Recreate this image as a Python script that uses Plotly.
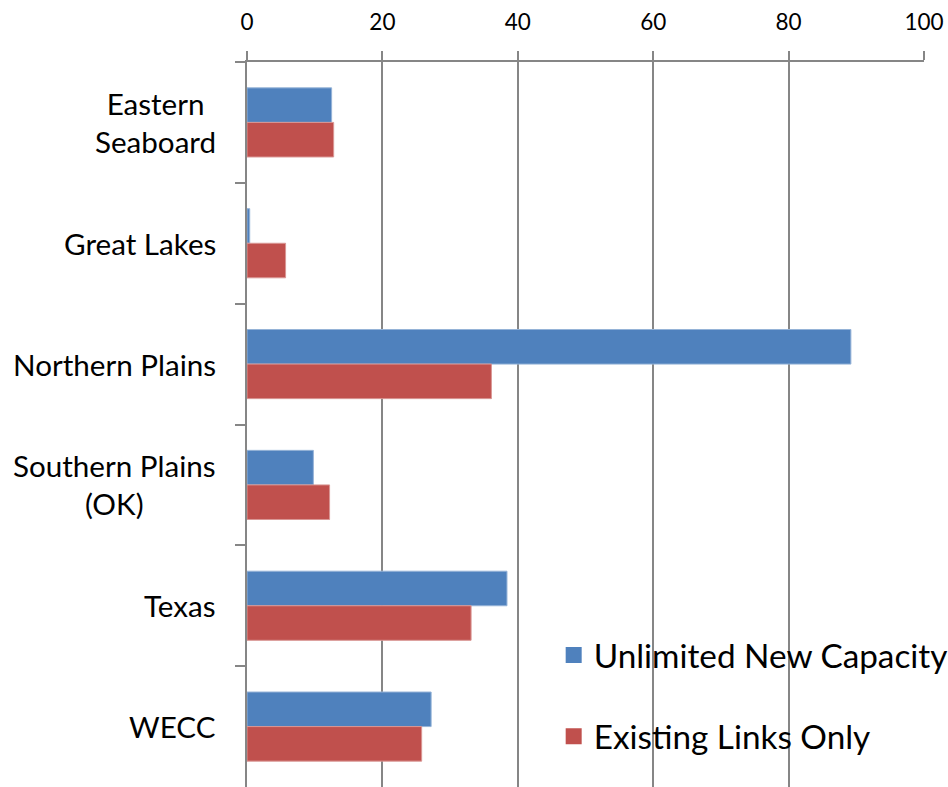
import plotly.graph_objects as go

categories = ["Eastern<br>Seaboard", "Great Lakes", "Northern Plains",
              "Southern Plains<br>(OK)", "Texas", "WECC"]
unlimited_new_capacity = [12.5, 0.4, 89.2, 9.8, 38.4, 27.2]
existing_links_only = [12.8, 5.7, 36.1, 12.2, 33.1, 25.8]
x_ticks = [0, 20, 40, 60, 80, 100]

BLUE = "#4F81BD"
RED = "#C0504D"
GRID = "#868686"
FONT = "Lato"

fig = go.Figure()
fig.add_trace(go.Bar(
    y=categories, x=unlimited_new_capacity, orientation="h",
    name="Unlimited New Capacity", showlegend=False,
    marker=dict(color=BLUE, line=dict(color="#95B3D7", width=1)),
))
fig.add_trace(go.Bar(
    y=categories, x=existing_links_only, orientation="h",
    name="Existing Links Only", showlegend=False,
    marker=dict(color=RED, line=dict(color="#D99694", width=1)),
))
# legend entries
fig.add_trace(go.Scatter(
    x=[None], y=[None], mode="markers", name="Unlimited New Capacity",
    legendgroup="a", marker=dict(symbol="square", size=20, color=BLUE),
))
fig.add_trace(go.Scatter(
    x=[None], y=[None], mode="markers", name="Existing Links Only",
    legendgroup="b", marker=dict(symbol="square", size=20, color=RED),
))

for c in categories:
    fig.add_annotation(
        x=0, xref="paper", y=c, yref="y", text=c, showarrow=False,
        xanchor="right", yanchor="middle", align="center", xshift=-29,
        font=dict(family=FONT, size=29.6, color="black"),
    )

fig.update_layout(
    width=948, height=787,
    margin=dict(l=247, r=24, t=62, b=0, pad=0, autoexpand=False),
    paper_bgcolor="white", plot_bgcolor="white",
    barmode="group", bargap=0.428, bargroupgap=0,
    font=dict(family=FONT, color="black"),
    legend=dict(
        x=0.453, y=0.221, xanchor="left", yanchor="top",
        bgcolor="rgba(0,0,0,0)", font=dict(family=FONT, size=33.3, color="black"),
        tracegroupgap=35, itemsizing="trace",
    ),
    xaxis=dict(
        side="top", range=[0, 100], tickvals=x_ticks,
        showgrid=True, gridcolor=GRID, gridwidth=1.5,
        showline=True, linecolor=GRID, linewidth=1.5,
        ticks="outside", ticklen=9, tickcolor=GRID, tickwidth=1.5,
        tickfont=dict(family=FONT, size=22.5, color="black"),
        ticklabelstandoff=12, zeroline=False, fixedrange=True,
    ),
    yaxis=dict(
        autorange="reversed", showticklabels=False,
        showline=True, linecolor=GRID, linewidth=2,
        ticks="outside", ticklen=10, tickcolor=GRID, tickwidth=1.5,
        tickson="boundaries", showgrid=False, zeroline=False,
    ),
)

fig.write_html("out.html")
